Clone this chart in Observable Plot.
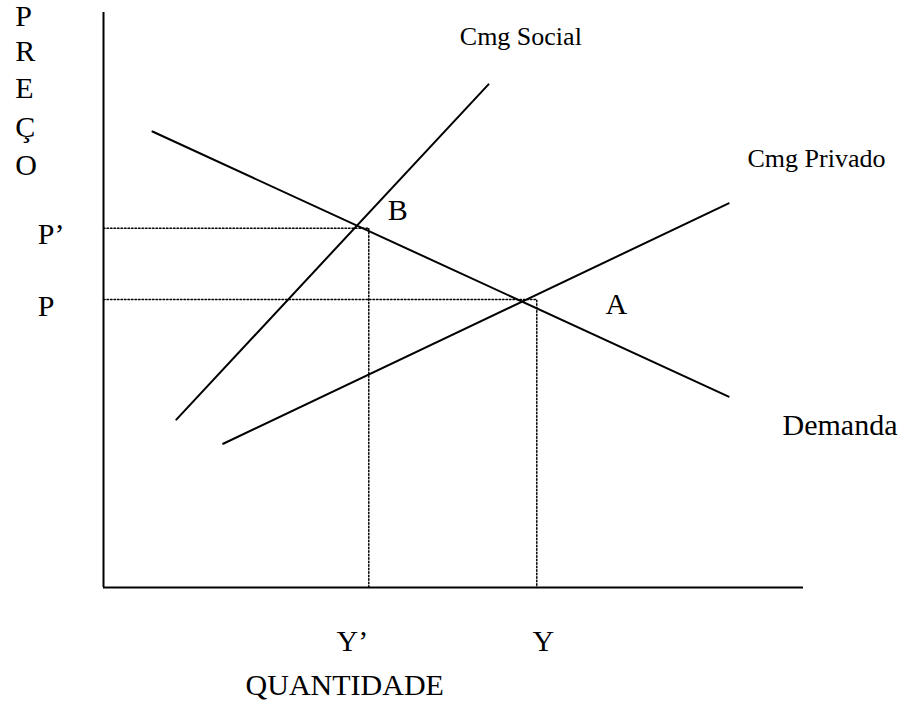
<!DOCTYPE html>
<html>
<head>
<meta charset="utf-8">
<script src="https://cdn.jsdelivr.net/npm/d3@7"></script>
<script src="https://cdn.jsdelivr.net/npm/@observablehq/plot@0.6"></script>
<style>
  html, body { margin: 0; padding: 0; background: #fff; }
  #chart svg { display: block; }
</style>
</head>
<body>
<div id="chart"></div>
<script>
// Curves (quantity q, price p) in schematic units
const cmgSocial = [ {q: 10.4, p: 29.2}, {q: 55.0, p: 87.5} ];
const demanda = [ {q: 7.0, p: 79.3}, {q: 89.3, p: 33.2} ];
const cmgPrivado = [ {q: 17.1, p: 25.0}, {q: 89.3, p: 66.8} ];

// Equilibrium levels
const priceLevels = {P: 50.1, Pprime: 62.5};
const quantityLevels = {Y: 61.9, Yprime: 37.9};

// Axis extents
const axisMaxQ = 100;
const axisMaxP = 100;

// Text annotations
const curveLabels = [
  {q: 50.9, p: 94.3, text: "Cmg Social", size: 26},
  {q: 92.0, p: 73.2, text: "Cmg Privado", size: 26},
  {q: 97.0, p: 26.6, text: "Demanda", size: 30},
  {q: 40.6, p: 64.0, text: "B", size: 30},
  {q: 71.7, p: 47.6, text: "A", size: 30}
];
const tickLabels = [
  {q: -9.4, p: 59.8, text: "P\u2019"},
  {q: -9.4, p: 47.3, text: "P"},
  {q: 33.3, p: -11.0, text: "Y\u2019"},
  {q: 61.3, p: -11.0, text: "Y"}
];
const yTitleLetters = ["P", "R", "E", "Ç", "O"];
const yTitleBaselines = [97.7, 91.5, 85.2, 78.4, 71.8];
const yTitleQ = -12.6;
const xTitle = {q: 20.3, p: -18.7, text: "QUANTIDADE"};

const font = "Liberation Serif, Times New Roman, serif";

const dottedPaths = [
  [{q: 0, p: priceLevels.Pprime}, {q: quantityLevels.Yprime, p: priceLevels.Pprime}, {q: quantityLevels.Yprime, p: 0}],
  [{q: 0, p: priceLevels.P}, {q: quantityLevels.Y, p: priceLevels.P}, {q: quantityLevels.Y, p: 0}]
];

const chart = Plot.plot({
  width: 907,
  height: 704,
  marginLeft: 103,
  marginRight: 104,
  marginTop: 12,
  marginBottom: 117,
  x: {domain: [0, 100], axis: null},
  y: {domain: [0, 100], axis: null},
  style: {background: "#fff", fontFamily: font, color: "#000"},
  marks: [
    ...dottedPaths.map(d => Plot.line(d, {x: "q", y: "p", stroke: "#000", strokeWidth: 1.5, strokeDasharray: "1.5,2"})),
    Plot.ruleX([0], {y1: 0, y2: axisMaxP, stroke: "#000", strokeWidth: 2}),
    Plot.ruleY([0], {x1: 0, x2: axisMaxQ, stroke: "#000", strokeWidth: 2}),
    Plot.line(cmgSocial, {x: "q", y: "p", stroke: "#000", strokeWidth: 2}),
    Plot.line(demanda, {x: "q", y: "p", stroke: "#000", strokeWidth: 2}),
    Plot.line(cmgPrivado, {x: "q", y: "p", stroke: "#000", strokeWidth: 2}),
    Plot.text(curveLabels, {x: "q", y: "p", text: "text", fontSize: d => d.size, textAnchor: "start", lineAnchor: "bottom", fill: "#000", fontFamily: font}),
    Plot.text(tickLabels, {x: "q", y: "p", text: "text", fontSize: 30, textAnchor: "start", lineAnchor: "bottom", fill: "#000", fontFamily: font}),
    Plot.text(yTitleLetters, {x: () => yTitleQ, y: (d, i) => yTitleBaselines[i], text: d => d, fontSize: 30, textAnchor: "start", lineAnchor: "bottom", fill: "#000", fontFamily: font}),
    Plot.text([xTitle], {x: "q", y: "p", text: "text", fontSize: 30, textAnchor: "start", lineAnchor: "bottom", fill: "#000", fontFamily: font})
  ]
});
document.getElementById("chart").appendChild(chart);
</script>
</body>
</html>
